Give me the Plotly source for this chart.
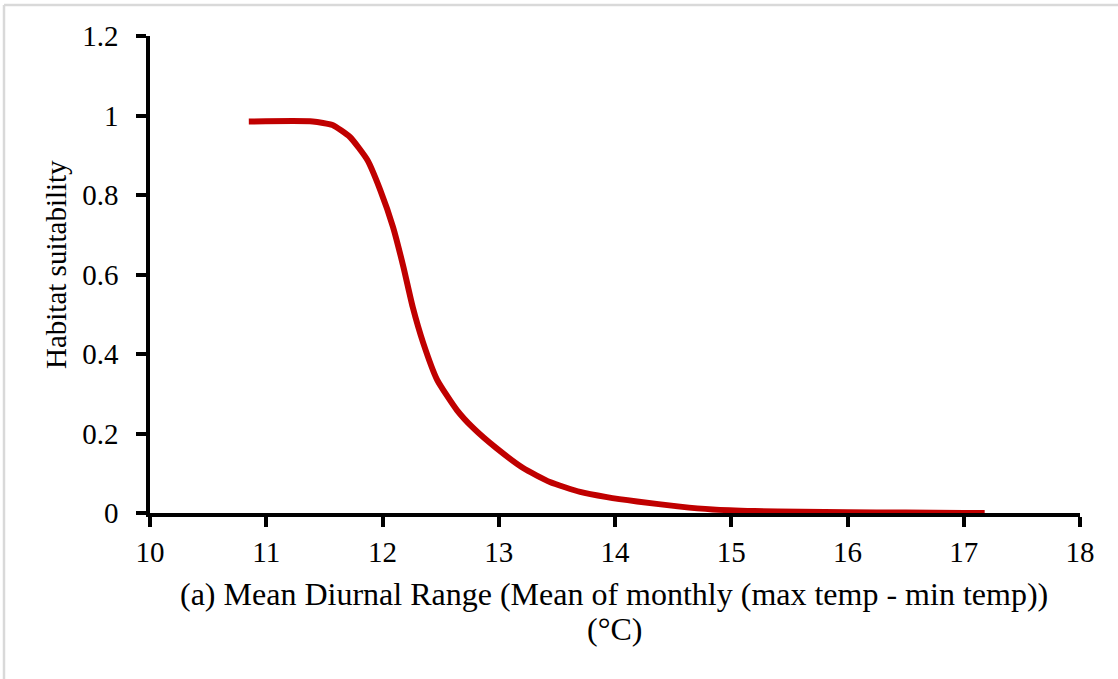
import plotly.graph_objects as go

# Data
mdr_x = [10.85, 11.40, 11.57, 11.72, 11.87, 11.98, 12.09, 12.18, 12.26,
         12.35, 12.47, 12.64, 12.78, 12.98, 13.21, 13.44, 13.70, 13.93, 14.19,
         14.56, 14.84, 15.2, 15.6, 16.0, 16.5, 17.0, 17.18]
suitability = [0.985, 0.985, 0.976, 0.946, 0.888, 0.813, 0.72, 0.619, 0.518,
               0.428, 0.335, 0.259, 0.214, 0.163, 0.113, 0.078, 0.053, 0.040, 0.029,
               0.016, 0.009, 0.005, 0.003, 0.002, 0.001, 0.0, 0.0]

x_ticks = [10, 11, 12, 13, 14, 15, 16, 17, 18]
y_ticks = [0, 0.2, 0.4, 0.6, 0.8, 1.0, 1.2]
y_tick_labels = ["0", "0.2", "0.4", "0.6", "0.8", "1", "1.2"]

x_title_1 = "(a) Mean Diurnal Range (Mean of monthly (max temp - min temp))"
x_title_2 = "(°C)"
y_title = "Habitat suitability"

FONT = "Liberation Serif, Times New Roman, serif"

# plot area geometry in pixels (for placing annotations in paper units)
L, R, T, B = 150, 38, 36, 166
PW, PH = 1118 - L - R, 679 - T - B


def px_x(p):
    return (p - L) / PW


def px_y(p):
    return (679 - B - p) / PH


fig = go.Figure()
fig.add_trace(go.Scatter(
    x=mdr_x, y=suitability, mode="lines",
    line=dict(color="#C00000", width=6, shape="spline", smoothing=0.5),
    hoverinfo="skip", showlegend=False, cliponaxis=False,
))

fig.update_layout(
    width=1118, height=679,
    margin=dict(l=L, r=R, t=T, b=B),
    paper_bgcolor="white", plot_bgcolor="white",
    font=dict(family=FONT, color="black", size=29),
    showlegend=False,
    shapes=[
        dict(type="line", xref="paper", yref="paper",
             x0=px_x(4), x1=px_x(1200), y0=px_y(5), y1=px_y(5),
             line=dict(color="#d9d9d9", width=2.5)),
        dict(type="line", xref="paper", yref="paper",
             x0=px_x(4), x1=px_x(4), y0=px_y(5), y1=px_y(700),
             line=dict(color="#d9d9d9", width=2.5)),
    ],
    annotations=[
        dict(text=x_title_1, xref="paper", yref="paper", x=px_x(614), y=px_y(594),
             xanchor="center", yanchor="middle", showarrow=False,
             font=dict(family=FONT, size=32, color="black")),
        dict(text=x_title_2, xref="paper", yref="paper", x=px_x(614), y=px_y(629),
             xanchor="center", yanchor="middle", showarrow=False,
             font=dict(family=FONT, size=32, color="black")),
        dict(text=y_title, xref="paper", yref="paper", x=px_x(56), y=px_y(265),
             xanchor="center", yanchor="middle", showarrow=False, textangle=-90,
             font=dict(family=FONT, size=29, color="black")),
    ],
)

fig.update_xaxes(
    range=[10, 18], tickvals=x_ticks, ticktext=[str(v) for v in x_ticks],
    showgrid=False, zeroline=False,
    showline=True, linecolor="black", linewidth=3.5,
    ticks="outside", ticklen=10, tickwidth=3.5, tickcolor="black",
    tickfont=dict(family=FONT, size=29, color="black"),
)
fig.update_yaxes(
    range=[0, 1.2], tickvals=y_ticks, ticktext=y_tick_labels,
    showgrid=False, zeroline=False,
    showline=True, linecolor="black", linewidth=3.5,
    ticks="outside", ticklen=10, tickwidth=3.5, tickcolor="black",
    tickfont=dict(family=FONT, size=29, color="black"),
    ticklabelstandoff=12,
)

fig.write_html("out.html")
